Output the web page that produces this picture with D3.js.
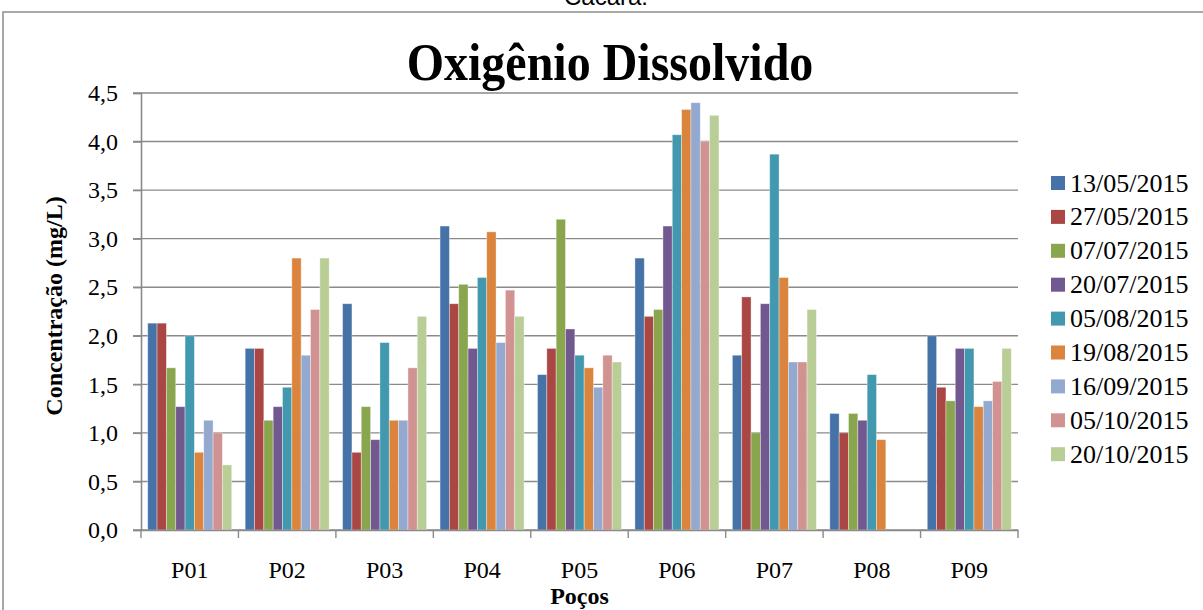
<!DOCTYPE html>
<html>
<head>
<meta charset="utf-8">
<script src="https://cdn.jsdelivr.net/npm/d3@7"></script>
<style>
  html, body { margin: 0; padding: 0; background: #fff; }
  svg { display: block; }
</style>
</head>
<body>
<svg id="chart" width="1203" height="610"></svg>
<script>
// ---- Data ----
const categories = ["P01", "P02", "P03", "P04", "P05", "P06", "P07", "P08", "P09"];
const seriesNames = ["13/05/2015", "27/05/2015", "07/07/2015", "20/07/2015", "05/08/2015",
                     "19/08/2015", "16/09/2015", "05/10/2015", "20/10/2015"];
const s13_05 = [2.13, 1.87, 2.33, 3.13, 1.60, 2.80, 1.80, 1.20, 2.00];
const s27_05 = [2.13, 1.87, 0.80, 2.33, 1.87, 2.20, 2.40, 1.00, 1.47];
const s07_07 = [1.67, 1.13, 1.27, 2.53, 3.20, 2.27, 1.00, 1.20, 1.33];
const s20_07 = [1.27, 1.27, 0.93, 1.87, 2.07, 3.13, 2.33, 1.13, 1.87];
const s05_08 = [2.00, 1.47, 1.93, 2.60, 1.80, 4.07, 3.87, 1.60, 1.87];
const s19_08 = [0.80, 2.80, 1.13, 3.07, 1.67, 4.33, 2.60, 0.93, 1.27];
const s16_09 = [1.13, 1.80, 1.13, 1.93, 1.47, 4.40, 1.73, null, 1.33];
const s05_10 = [1.00, 2.27, 1.67, 2.47, 1.80, 4.00, 1.73, null, 1.53];
const s20_10 = [0.67, 2.80, 2.20, 2.20, 1.73, 4.27, 2.27, null, 1.87];
const seriesValues = [s13_05, s27_05, s07_07, s20_07, s05_08, s19_08, s16_09, s05_10, s20_10];
const colors = ["#4572A7", "#AA4643", "#89A54E", "#71588F", "#4198AF",
                "#DB843D", "#93A9CF", "#D19392", "#B9CD96"];
const yTicks = [0, 0.5, 1.0, 1.5, 2.0, 2.5, 3.0, 3.5, 4.0, 4.5];
const yTickLabels = ["0,0", "0,5", "1,0", "1,5", "2,0", "2,5", "3,0", "3,5", "4,0", "4,5"];

// ---- Layout ----
const svg = d3.select("#chart");
const pLeft = 141, pRight = 1018, pTop = 93, pBottom = 530;
const gridColor = "#8a8a8a";
const serif = '"Liberation Serif"';

// outer frame
svg.append("rect").attr("x", 3).attr("y", 12).attr("width", 1240).attr("height", 640)
  .attr("fill", "none").attr("stroke", "#8c8c8c").attr("stroke-width", 1.5);

// caption cut at the top edge (as in the reference)
svg.append("text").attr("x", 606).attr("y", 5).attr("text-anchor", "middle")
  .style("font-family", '"Liberation Sans"').attr("font-size", 24)
  .attr("fill", "#000").text("Cacará:");

const x0 = d3.scaleBand().domain(categories).range([pLeft, pRight]).padding(0);
const x1 = d3.scaleBand().domain(seriesNames).range([0, x0.bandwidth()])
  .paddingInner(0).paddingOuter(0.72);
const y = d3.scaleLinear().domain([0, 4.5]).range([pBottom, pTop]);

// gridlines
svg.append("g").selectAll("line").data(yTicks).join("line")
  .attr("x1", pLeft - 8).attr("x2", pRight)
  .attr("y1", d => y(d)).attr("y2", d => y(d))
  .attr("stroke", gridColor).attr("stroke-width", 1.4);

// bars
const rows = [];
seriesNames.forEach((s, si) => {
  categories.forEach((c, ci) => {
    const v = seriesValues[si][ci];
    if (v != null) rows.push({ s, si, c, v });
  });
});
svg.append("g").selectAll("rect").data(rows).join("rect")
  .attr("x", d => x0(d.c) + x1(d.s))
  .attr("y", d => y(d.v))
  .attr("width", x1.bandwidth())
  .attr("height", d => y(0) - y(d.v))
  .attr("fill", d => colors[d.si])
  .attr("stroke", "rgba(255,255,255,0.45)").attr("stroke-width", 0.8);

// y axis
const yAxis = d3.axisLeft(y).tickValues(yTicks)
  .tickFormat((d, i) => yTickLabels[i]).tickSize(8).tickPadding(15);
const gy = svg.append("g").attr("transform", `translate(${pLeft},0)`).call(yAxis);
gy.select(".domain").attr("stroke", gridColor).attr("stroke-width", 1.6);
gy.selectAll(".tick line").attr("stroke", gridColor).attr("stroke-width", 1.4);
gy.selectAll("text").style("font-family", serif).attr("font-size", 24).attr("fill", "#000");

// x axis
const xAxis = d3.axisBottom(x0).tickSize(0).tickPadding(31);
const gx = svg.append("g").attr("transform", `translate(0,${pBottom})`).call(xAxis);
gx.select(".domain").attr("stroke", gridColor).attr("stroke-width", 1.6);
gx.selectAll("text").style("font-family", serif).attr("font-size", 24).attr("fill", "#000");
// boundary tick marks
const bounds = categories.map(c => x0(c)).concat([x0(categories[categories.length - 1]) + x0.bandwidth()]);
gx.selectAll("line.bound").data(bounds).join("line").attr("class", "bound")
  .attr("x1", d => d).attr("x2", d => d).attr("y1", 0).attr("y2", 8)
  .attr("stroke", gridColor).attr("stroke-width", 1.4);

// title (slightly stretched vertically, as in the reference)
svg.append("text").attr("transform", "translate(610,80) scale(1,1.12)").attr("text-anchor", "middle")
  .style("font-family", serif).attr("font-weight", "bold").attr("font-size", 48)
  .attr("fill", "#000").text("Oxigênio Dissolvido");

// axis titles
svg.append("text").attr("transform", `translate(62,306) rotate(-90)`)
  .attr("text-anchor", "middle").style("font-family", serif).attr("font-weight", "bold")
  .attr("font-size", 24).attr("fill", "#000").text("Concentração (mg/L)");
svg.append("text").attr("x", (pLeft + pRight) / 2).attr("y", 604).attr("text-anchor", "middle")
  .style("font-family", serif).attr("font-weight", "bold").attr("font-size", 24)
  .attr("fill", "#000").text("Poços");

// legend
const lg = svg.append("g").selectAll("g").data(seriesNames).join("g")
  .attr("transform", (d, i) => `translate(1051,${183 + i * 33.9})`);
lg.append("rect").attr("x", 0).attr("y", -7).attr("width", 14).attr("height", 14)
  .attr("fill", (d, i) => colors[i]);
lg.append("text").attr("x", 19).attr("y", 8.5).style("font-family", serif)
  .attr("font-size", 26).attr("fill", "#000").text(d => d);
</script>
</body>
</html>
